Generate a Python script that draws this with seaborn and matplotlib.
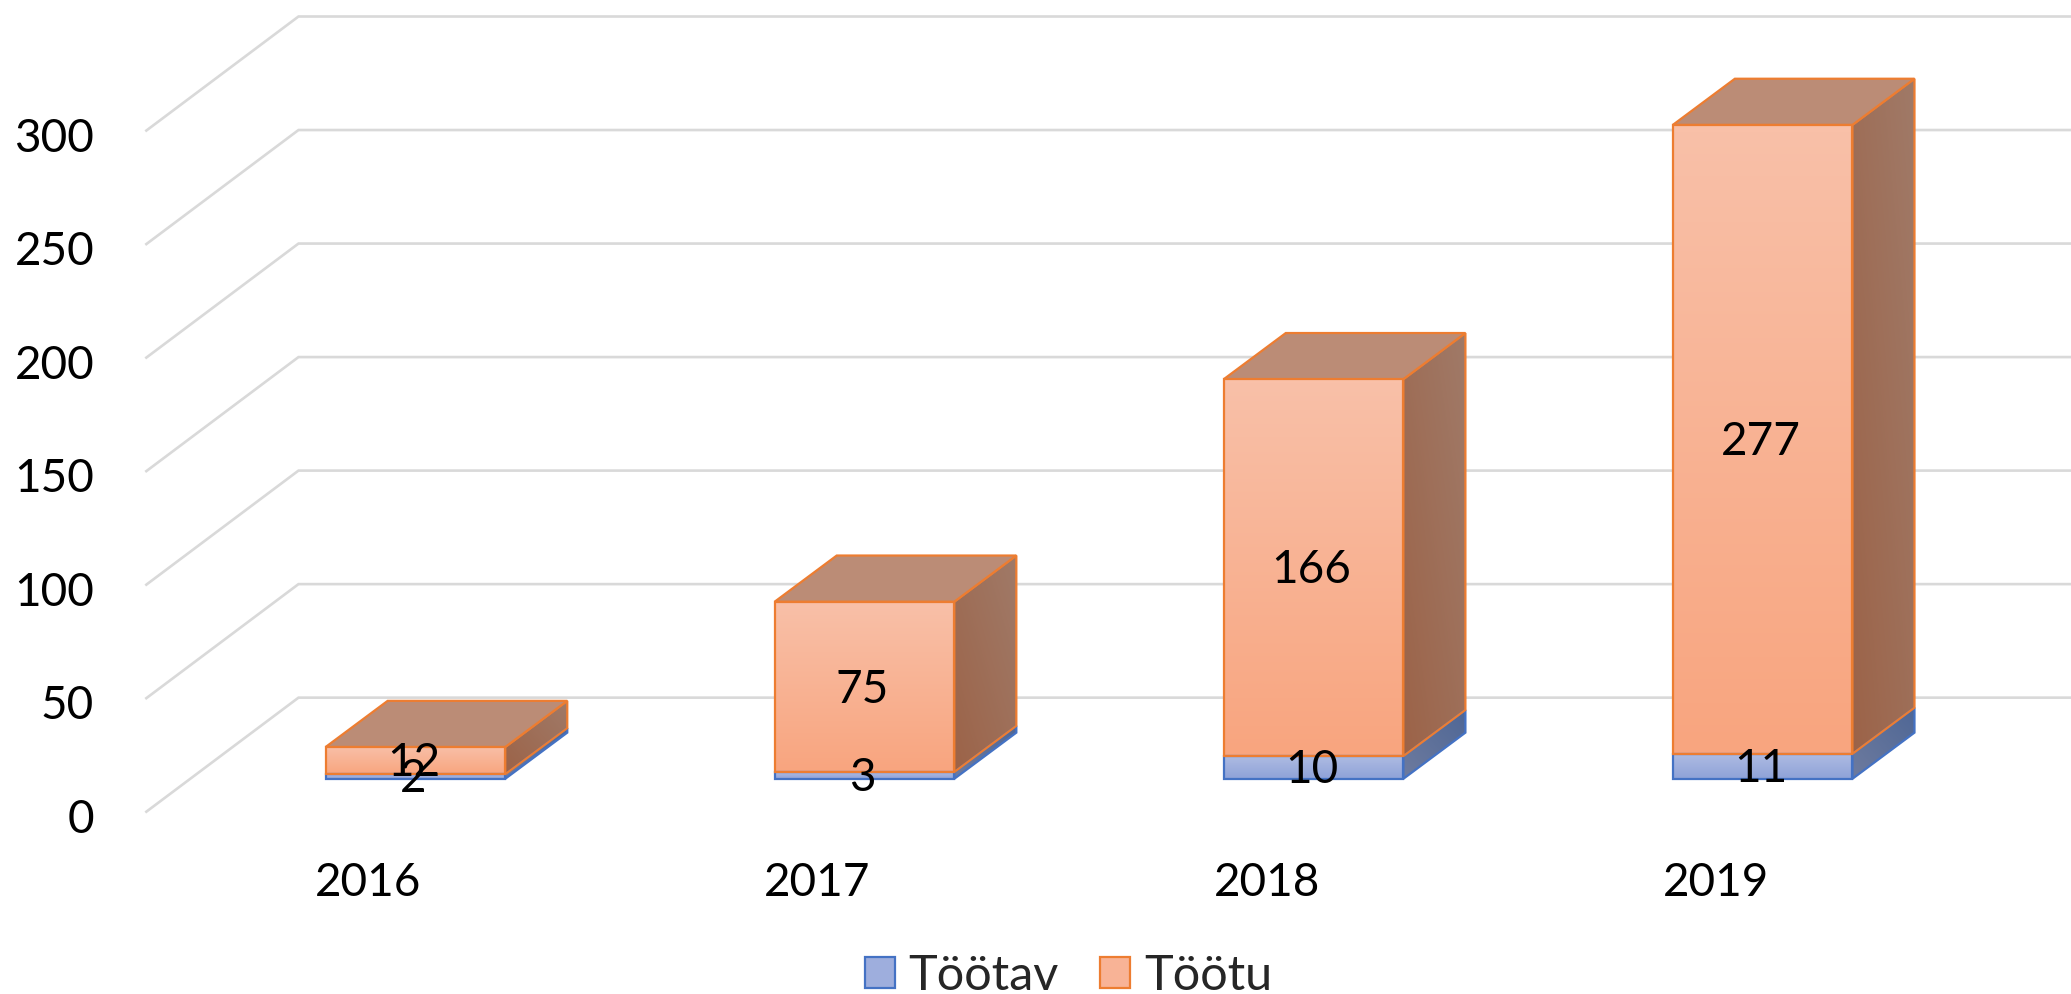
import numpy as np
import pandas as pd
import matplotlib
matplotlib.use("Agg")
import matplotlib.pyplot as plt
from matplotlib.colors import LinearSegmentedColormap
from matplotlib.patches import Polygon, Patch
import seaborn as sns

years = ["2016", "2017", "2018", "2019"]
tootav = [2, 3, 10, 11]
tootu = [12, 75, 166, 277]
y_ticks = [0, 50, 100, 150, 200, 250, 300]
series_names = ["Töötav", "Töötu"]

W, H = 2071, 994
S = W / 1568  # layout measured on the 1568-wide view
sns.set_theme(style="white")
plt.rcParams["font.family"] = ["Lato", "DejaVu Sans"]

FS = 33
fig = plt.figure(figsize=(W / 100, H / 100), dpi=100)
AL, AB = 85, 640
ax = fig.add_axes([AL / 1568, 1 - AB / 753, 1 - AL / 1568, AB / 753])

PX_PER_UNIT = 1.72
PX_PER_CAT = 340
X0, Y0 = 314.5, 590
xlim = ((AL - X0) / PX_PER_CAT, (1568 - X0) / PX_PER_CAT)
ylim = ((Y0 - AB) / PX_PER_UNIT, Y0 / PX_PER_UNIT)

df = pd.DataFrame({"year": years, "a": tootav, "b": tootu})
BW = 136 / PX_PER_CAT
sns.barplot(data=df, x="year", y="a", ax=ax, width=BW, fill=False, color="#4472C4",
            linewidth=1.6, errorbar=None, zorder=5)
sns.barplot(data=df, x="year", y="b", bottom=df["a"].values, ax=ax, width=BW, fill=False,
            color="#ED7D31", linewidth=1.6, errorbar=None, zorder=5)
blue_cont, orange_cont = ax.containers[0], ax.containers[1]

DX, DY = 47 / PX_PER_CAT, 35 / PX_PER_UNIT


def grad_poly(verts, c0, c1, angle="v", z=3):
    """c0 at top (or top-right), c1 at bottom (or bottom-left)."""
    verts = np.asarray(verts)
    cmap = LinearSegmentedColormap.from_list("g", [c1, c0])
    n = 64
    yy = np.linspace(0, 1, n)
    if angle == "v":
        arr = np.tile(yy[:, None], (1, 4))
    else:
        xx = np.linspace(0, 1, n)
        arr = (xx[None, :] * 0.5 + yy[:, None] * 0.5)
    ext = (verts[:, 0].min(), verts[:, 0].max(), verts[:, 1].min(), verts[:, 1].max())
    im = ax.imshow(arr, extent=ext, origin="lower", aspect="auto", cmap=cmap, vmin=0, vmax=1,
                   interpolation="bilinear", zorder=z)
    poly = Polygon(verts, closed=True, transform=ax.transData)
    im.set_clip_path(poly)


def draw_segments(cont, front, side0, side1, edge, top=None):
    for p in cont:
        x, y, w, h = p.get_x(), p.get_y(), p.get_width(), p.get_height()
        grad_poly([(x, y), (x + w, y), (x + w, y + h), (x, y + h)], front[0], front[1], z=4)
        side = [(x + w, y), (x + w + DX, y + DY), (x + w + DX, y + h + DY), (x + w, y + h)]
        grad_poly(side, side0, side1, angle="d", z=3)
        ax.add_patch(Polygon(side, closed=True, fill=False, edgecolor=edge, lw=1.6, zorder=3.5))
        if top:
            ax.add_patch(Polygon([(x, y + h), (x + w, y + h), (x + w + DX, y + h + DY), (x + DX, y + h + DY)],
                                 closed=True, facecolor=top, edgecolor=edge, lw=1.6, zorder=3.6))


draw_segments(blue_cont, ("#AEBBE2", "#8EA2D8"), "#4F6796", "#6E7B9E", "#4472C4")
draw_segments(orange_cont, ("#F9C0A8", "#F8A57F"), "#A07A68", "#9C6348", "#ED7D31", top="#BB8C76")

# floor + wall gridlines
FRONT_X, BACK_X = (110 - X0) / PX_PER_CAT, (226 - X0) / PX_PER_CAT
FRONT_OFF, BACK_OFF = (Y0 - 615.5) / PX_PER_UNIT, (Y0 - 528.5) / PX_PER_UNIT
GRID = "#D9D9D9"
for v in y_ticks:
    ax.plot([FRONT_X, BACK_X, xlim[1]], [v + FRONT_OFF, v + BACK_OFF, v + BACK_OFF],
            color=GRID, lw=1.9, zorder=1, solid_capstyle="butt", solid_joinstyle="miter")

# data labels
labs = ax.bar_label(blue_cont, labels=[str(v) for v in tootav], label_type="center", fontsize=FS,
                    color="black", zorder=8)
labs += ax.bar_label(orange_cont, labels=[str(v) for v in tootu], label_type="center", fontsize=FS,
                     color="black", zorder=8)
for t in labs:
    t.xyann = (-1.5, -2)

ax.set_xlim(*xlim)
ax.set_ylim(*ylim)
ax.set_xticks(np.arange(len(years)) - 35.5 / PX_PER_CAT, labels=years)
ax.set_yticks(np.array(y_ticks) + FRONT_OFF + (-2.5 / PX_PER_UNIT), labels=[str(v) for v in y_ticks])
ax.tick_params(axis="both", length=0, labelsize=FS, colors="black")
ax.tick_params(axis="x", pad=12)
ax.tick_params(axis="y", pad=13)
ax.set_xlabel("")
ax.set_ylabel("")
ax.grid(False)
for s in ax.spines.values():
    s.set_visible(False)

handles = [Patch(facecolor="#9EAEDD", edgecolor="#4472C4", lw=1.6, label=series_names[0]),
           Patch(facecolor="#F8B396", edgecolor="#ED7D31", lw=1.6, label=series_names[1])]
fig.legend(handles=handles, loc="center", bbox_to_anchor=(809 / 1568, 1 - 739 / 753), ncol=2, frameon=False,
           fontsize=35, handlelength=0.62, handleheight=0.62, handletextpad=0.28, columnspacing=0.85,
           borderaxespad=0, borderpad=0)

fig.savefig("out.png", dpi=100)
